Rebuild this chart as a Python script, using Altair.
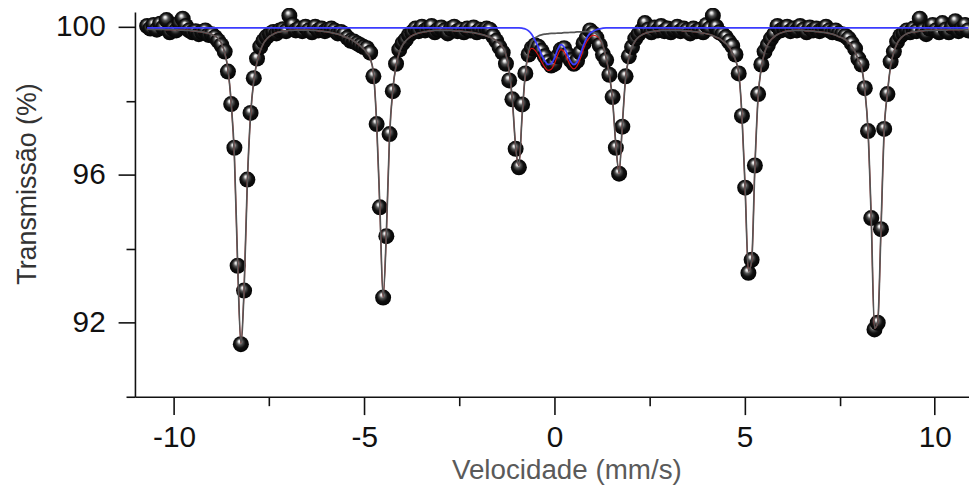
import altair as alt
import pandas as pd

# Velocity channels (mm/s)
vel = [
    -10.710, -10.625, -10.540, -10.455, -10.370, -10.285, -10.200, -10.115, -10.030, -9.945,
    -9.860, -9.775, -9.690, -9.605, -9.520, -9.435, -9.350, -9.265, -9.180, -9.095,
    -9.010, -8.925, -8.840, -8.755, -8.670, -8.585, -8.500, -8.415, -8.330, -8.245,
    -8.160, -8.075, -7.990, -7.905, -7.820, -7.735, -7.650, -7.565, -7.480, -7.395,
    -7.310, -7.225, -7.140, -7.055, -6.970, -6.885, -6.800, -6.715, -6.630, -6.545,
    -6.460, -6.375, -6.290, -6.205, -6.120, -6.035, -5.950, -5.865, -5.780, -5.695,
    -5.610, -5.525, -5.440, -5.355, -5.270, -5.185, -5.100, -5.015, -4.930, -4.845,
    -4.760, -4.675, -4.590, -4.505, -4.420, -4.335, -4.250, -4.165, -4.080, -3.995,
    -3.910, -3.825, -3.740, -3.655, -3.570, -3.485, -3.400, -3.315, -3.230, -3.145,
    -3.060, -2.975, -2.890, -2.805, -2.720, -2.635, -2.550, -2.465, -2.380, -2.295,
    -2.210, -2.125, -2.040, -1.955, -1.870, -1.785, -1.700, -1.615, -1.530, -1.445,
    -1.360, -1.275, -1.190, -1.105, -1.020, -0.935, -0.850, -0.765, -0.680, -0.595,
    -0.510, -0.425, -0.340, -0.255, -0.170, -0.085, 0.000, 0.085, 0.170, 0.255,
    0.340, 0.425, 0.510, 0.595, 0.680, 0.765, 0.850, 0.935, 1.020, 1.105,
    1.190, 1.275, 1.360, 1.445, 1.530, 1.615, 1.700, 1.785, 1.870, 1.955,
    2.040, 2.125, 2.210, 2.295, 2.380, 2.465, 2.550, 2.635, 2.720, 2.805,
    2.890, 2.975, 3.060, 3.145, 3.230, 3.315, 3.400, 3.485, 3.570, 3.655,
    3.740, 3.825, 3.910, 3.995, 4.080, 4.165, 4.250, 4.335, 4.420, 4.505,
    4.590, 4.675, 4.760, 4.845, 4.930, 5.015, 5.100, 5.185, 5.270, 5.355,
    5.440, 5.525, 5.610, 5.695, 5.780, 5.865, 5.950, 6.035, 6.120, 6.205,
    6.290, 6.375, 6.460, 6.545, 6.630, 6.715, 6.800, 6.885, 6.970, 7.055,
    7.140, 7.225, 7.310, 7.395, 7.480, 7.565, 7.650, 7.735, 7.820, 7.905,
    7.990, 8.075, 8.160, 8.245, 8.330, 8.415, 8.500, 8.585, 8.670, 8.755,
    8.840, 8.925, 9.010, 9.095, 9.180, 9.265, 9.350, 9.435, 9.520, 9.605,
    9.690, 9.775, 9.860, 9.945, 10.030, 10.115, 10.200, 10.285, 10.370, 10.455,
    10.540, 10.625, 10.710, 10.795, 10.880,
]

# Measured transmission (%)
trans = [
    100.02, 99.95, 100.05, 99.92, 100.08, 99.98, 100.18, 99.85, 99.95, 99.90,
    100.10, 100.22, 100.02, 99.90, 99.85, 99.88, 99.80, 99.86, 99.90, 99.78,
    99.80, 99.72, 99.62, 99.50, 99.33, 98.79, 97.91, 96.73, 93.54, 91.42,
    92.87, 95.87, 97.67, 98.61, 99.14, 99.46, 99.62, 99.73, 99.80, 99.86,
    99.82, 99.90, 99.93, 99.88, 100.30, 100.05, 99.90, 99.95, 99.88, 100.00,
    99.90, 99.85, 100.00, 99.90, 99.95, 99.88, 99.92, 99.95, 99.90, 99.82,
    99.86, 99.80, 99.70, 99.62, 99.60, 99.55, 99.50, 99.45, 99.42, 99.30,
    98.66, 97.37, 95.12, 92.68, 94.34, 97.10, 98.26, 99.00, 99.38, 99.55,
    99.65, 99.78, 99.85, 99.95, 99.88, 100.00, 99.90, 99.95, 100.02, 99.85,
    99.92, 99.98, 99.90, 99.82, 99.95, 100.00, 99.88, 99.92, 99.85, 99.95,
    99.90, 99.98, 99.85, 99.92, 99.88, 99.95, 99.92, 99.75, 99.62, 99.45,
    99.30, 99.00, 98.55, 98.04, 96.70, 96.20, 97.90, 98.74, 99.25, 99.42,
    99.50, 99.46, 99.35, 99.20, 99.05, 98.95, 99.00, 99.20, 99.38, 99.42,
    99.25, 99.10, 99.00, 99.08, 99.30, 99.55, 99.70, 99.90, 99.82, 99.70,
    99.50, 99.25, 99.10, 98.70, 98.10, 96.73, 96.03, 97.30, 98.66, 99.20,
    99.45, 99.68, 99.80, 99.90, 100.10, 99.92, 99.85, 99.98, 99.90, 100.02,
    99.88, 99.95, 99.85, 99.92, 100.00, 99.88, 99.95, 99.90, 99.82, 99.95,
    99.88, 99.92, 99.85, 100.05, 99.95, 100.30, 100.00, 99.85, 99.80, 99.72,
    99.60, 99.48, 99.25, 98.74, 97.59, 95.65, 93.35, 93.70, 96.25, 98.18,
    98.98, 99.33, 99.50, 99.68, 99.80, 100.02, 99.90, 99.95, 100.00, 99.88,
    99.95, 99.90, 100.02, 99.92, 99.85, 99.98, 99.90, 99.95, 99.88, 99.92,
    100.00, 99.90, 99.85, 99.90, 99.82, 99.80, 99.75, 99.68, 99.55, 99.41,
    99.14, 98.98, 98.34, 97.18, 94.83, 91.82, 92.00, 94.53, 97.24, 98.18,
    99.06, 99.33, 99.60, 99.75, 99.82, 99.90, 99.85, 99.95, 99.88, 100.22,
    99.90, 99.80, 99.95, 100.05, 99.90, 99.85, 100.10, 99.92, 99.85, 100.00,
    100.15, 99.88, 99.95, 100.05, 99.90,
]

# Sextet sub-spectrum (fit), same channels
sextet = [
    99.93, 99.93, 99.93, 99.93, 99.93, 99.93, 99.92, 99.92, 99.92, 99.92,
    99.91, 99.91, 99.90, 99.90, 99.89, 99.88, 99.87, 99.86, 99.84, 99.82,
    99.79, 99.75, 99.68, 99.55, 99.30, 98.85, 97.95, 96.50, 93.60, 91.45,
    92.90, 95.80, 97.60, 98.55, 99.05, 99.35, 99.55, 99.67, 99.75, 99.80,
    99.84, 99.86, 99.88, 99.89, 99.90, 99.90, 99.91, 99.91, 99.91, 99.91,
    99.91, 99.90, 99.90, 99.89, 99.88, 99.87, 99.86, 99.84, 99.82, 99.80,
    99.77, 99.73, 99.70, 99.66, 99.61, 99.55, 99.48, 99.40, 99.30, 99.15,
    98.75, 97.40, 95.10, 92.70, 94.40, 97.05, 98.30, 98.95, 99.30, 99.50,
    99.62, 99.70, 99.76, 99.80, 99.83, 99.85, 99.87, 99.88, 99.89, 99.90,
    99.90, 99.90, 99.90, 99.90, 99.90, 99.89, 99.88, 99.88, 99.87, 99.86,
    99.85, 99.84, 99.82, 99.80, 99.78, 99.75, 99.72, 99.68, 99.62, 99.55,
    99.45, 99.25, 98.80, 98.00, 96.75, 96.25, 97.60, 98.75, 99.35, 99.60,
    99.70, 99.75, 99.78, 99.80, 99.81, 99.82, 99.82, 99.83, 99.83, 99.84,
    99.84, 99.85, 99.85, 99.86, 99.86, 99.87, 99.87, 99.87, 99.86, 99.80,
    99.70, 99.50, 99.15, 98.70, 98.00, 96.80, 96.05, 97.35, 98.60, 99.15,
    99.45, 99.62, 99.72, 99.78, 99.82, 99.85, 99.87, 99.88, 99.89, 99.90,
    99.90, 99.90, 99.90, 99.90, 99.90, 99.90, 99.89, 99.89, 99.88, 99.87,
    99.86, 99.85, 99.83, 99.81, 99.79, 99.76, 99.72, 99.68, 99.62, 99.55,
    99.45, 99.30, 99.10, 98.75, 97.60, 95.60, 93.40, 93.65, 96.20, 98.10,
    98.90, 99.30, 99.52, 99.65, 99.73, 99.79, 99.83, 99.86, 99.88, 99.89,
    99.90, 99.90, 99.90, 99.90, 99.89, 99.89, 99.88, 99.87, 99.86, 99.85,
    99.84, 99.82, 99.80, 99.77, 99.73, 99.70, 99.65, 99.58, 99.48, 99.32,
    99.10, 98.90, 98.30, 97.20, 94.80, 91.85, 92.00, 94.50, 97.20, 98.20,
    98.95, 99.32, 99.55, 99.68, 99.76, 99.81, 99.84, 99.86, 99.87, 99.88,
    99.89, 99.90, 99.90, 99.90, 99.91, 99.91, 99.91, 99.91, 99.92, 99.92,
    99.92, 99.92, 99.92, 99.93, 99.93,
]

# Doublet sub-spectrum (fit)
dbl_v = [
    -10.710, -0.935, -0.850, -0.765, -0.680, -0.595, -0.510, -0.425, -0.340, -0.255,
    -0.170, -0.085, 0.000, 0.085, 0.170, 0.255, 0.340, 0.425, 0.510, 0.595,
    0.680, 0.765, 0.850, 0.935, 1.020, 1.105, 1.190, 1.275, 1.360, 10.880,
]
dbl_t = [
    99.97, 99.97, 99.96, 99.94, 99.89, 99.79, 99.63, 99.45, 99.25, 99.08,
    98.98, 99.00, 99.15, 99.38, 99.52, 99.45, 99.25, 99.06, 98.98, 99.05,
    99.25, 99.50, 99.70, 99.82, 99.88, 99.92, 99.94, 99.96, 99.97, 99.97,
]
BASE = 99.97

dmap = dict(zip(dbl_v, dbl_t))
total = [round(s + dmap.get(v, BASE) - BASE, 3) for v, s in zip(vel, sextet)]

df = pd.DataFrame({"v": vel, "t": trans, "s": sextet, "tot": total})
dd = pd.DataFrame({"v": dbl_v, "d": dbl_t})

LABEL_FONT = "Liberation Sans, Arial, sans-serif"

xaxis = alt.Axis(
    values=[-10, -7.5, -5, -2.5, 0, 2.5, 5, 7.5, 10],
    labelExpr="datum.value % 5 == 0 ? '' + datum.value : ''",
    tickSize={"condition": {"test": "datum.value % 5 == 0", "value": 18}, "value": 9},
    tickWidth=1.6, tickColor="#111", domainColor="#111", domainWidth=1.6,
    labelFont=LABEL_FONT, labelFontSize=30, labelColor="#111", labelPadding=8,
    labelFlush=False, labelOverlap=False,
    grid=False,
    titleFont=LABEL_FONT, titleFontSize=28, titleColor="#5a5a5a", titleFontWeight="normal",
    titleX=435, titleY=74, titleBaseline="middle", titleAlign="center",
)
yaxis = alt.Axis(
    values=[90, 92, 94, 96, 98, 100],
    labelExpr="datum.value % 4 == 0 ? '' + datum.value : ''",
    tickSize={"condition": {"test": "datum.value % 4 == 0", "value": 17}, "value": 9},
    tickWidth=1.6, tickColor="#111", domainColor="#111", domainWidth=1.6,
    labelFont=LABEL_FONT, labelFontSize=30, labelColor="#111", labelPadding=13,
    labelFlush=False, labelOverlap=False,
    grid=False,
    titleFont=LABEL_FONT, titleFontSize=27, titleColor="#333", titleFontWeight="normal",
    titleX=-108, titleY=173, titleBaseline="middle", titleAlign="center",
)

xscale = alt.Scale(domain=[-11.03, 10.9], nice=False, zero=False)
yscale = alt.Scale(domain=[90, 100.4], nice=False, zero=False)

X = alt.X("v:Q", scale=xscale, axis=xaxis, title="Velocidade (mm/s)")

sphere = alt.RadialGradient(
    gradient="radial",
    stops=[
        alt.GradientStop(offset=0, color="#ffffff"),
        alt.GradientStop(offset=0.12, color="#e4e4e4"),
        alt.GradientStop(offset=0.3, color="#555555"),
        alt.GradientStop(offset=0.55, color="#101010"),
        alt.GradientStop(offset=1, color="#000000"),
    ],
    x1=0.4, y1=0.3, r1=0, x2=0.5, y2=0.5, r2=0.6,
)

points = alt.Chart(df).mark_circle(size=260, opacity=1, fill=sphere, strokeWidth=0).encode(
    x=X,
    y=alt.Y("t:Q", scale=yscale, axis=yaxis, title="Transmissão (%)"),
)
red = alt.Chart(df).mark_line(color="#dd1111", strokeWidth=1.2, interpolate="monotone").encode(
    x=X,
    y=alt.Y("tot:Q", scale=yscale, axis=yaxis, title="Transmissão (%)"),
)
gray = alt.Chart(df).mark_line(color="#555555", strokeWidth=1.7, interpolate="monotone").encode(
    x=X,
    y=alt.Y("s:Q", scale=yscale, axis=yaxis, title="Transmissão (%)"),
)
blue = alt.Chart(dd).mark_line(color="#3c3cff", strokeWidth=1.8, interpolate="monotone").encode(
    x=X,
    y=alt.Y("d:Q", scale=yscale, axis=yaxis, title="Transmissão (%)"),
)

chart = alt.layer(points, red, gray, blue).properties(
    width=841, height=388,
    autosize=alt.AutoSizeParams(type="none"),
    padding={"left": 128, "top": 2, "right": 0, "bottom": 89},
    background="white",
).configure_view(strokeWidth=0)

chart.save("out.html", embed_options={"renderer": "svg", "actions": False})
